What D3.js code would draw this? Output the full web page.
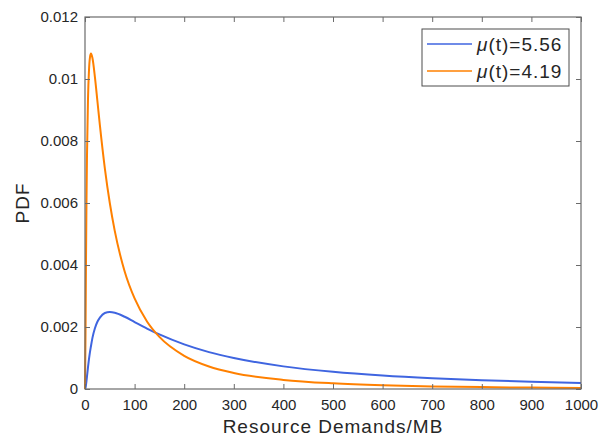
<!DOCTYPE html>
<html>
<head>
<meta charset="utf-8">
<script src="https://cdn.jsdelivr.net/npm/d3@7"></script>
<style>
  body { margin: 0; background: #fff; }
  text { font-family: "Liberation Sans", Arial, sans-serif; fill: #262626; }
</style>
</head>
<body>
<div id="chart"></div>
<script>
// Values
var xValues = [0, 1, 2, 3, 4, 6, 8, 10, 12, 15, 20, 25, 30, 40, 50, 60, 80, 100, 125, 150,
               200, 250, 300, 400, 500, 600, 700, 800, 900, 1000];
var blueValues = [0, 0.000033, 0.000133, 0.00026, 0.000409, 0.000697, 0.00096, 0.00119, 0.00138, 0.00165,
                  0.00196, 0.00217, 0.00230, 0.00245, 0.00248, 0.00246, 0.00233, 0.00216, 0.00195, 0.00176,
                  0.00144, 0.00119, 0.00100, 0.00073, 0.000553, 0.000432, 0.000346, 0.000282, 0.000233, 0.000196];
var orangeValues = [0, 0.0017, 0.00412, 0.00606, 0.0075, 0.00933, 0.01027, 0.0107, 0.01082, 0.01068,
                    0.01006, 0.00929, 0.00851, 0.00712, 0.006, 0.0051, 0.00379, 0.00292, 0.00218, 0.00168,
                    0.00107, 0.000727, 0.000519, 0.000294, 0.000183, 0.000121, 0.0000842, 0.0000608, 0.0000453, 0.0000345];
var seriesNames = ["5.56", "4.19"];
var xTicks = [0, 100, 200, 300, 400, 500, 600, 700, 800, 900, 1000];
var yTicks = [0, 0.002, 0.004, 0.006, 0.008, 0.01, 0.012];

var svgWidth = 599;
var svgHeight = 437;
var margin = { top: 17, right: 18, bottom: 48, left: 85 };
var width = svgWidth - margin.left - margin.right;
var height = svgHeight - margin.top - margin.bottom;

var svg = d3.select("#chart").append("svg")
    .attr("width", svgWidth)
    .attr("height", svgHeight);

var g = svg.append("g")
    .attr("transform", `translate(${margin.left}, ${margin.top})`);

var x = d3.scaleLinear().domain([0, 1000]).range([0, width]);
var y = d3.scaleLinear().domain([0, 0.012]).range([height, 0]);

var axisColor = "#6b6b6b";

// curves
var series = [
    { name: seriesNames[0], values: blueValues, color: "#3f65e0" },
    { name: seriesNames[1], values: orangeValues, color: "#ff8000" }
];

var line = d3.line()
    .x((d, i) => x(xValues[i]))
    .y(d => y(d))
    .curve(d3.curveMonotoneX);

series.forEach(function (s) {
    g.append("path")
        .datum(s.values)
        .attr("fill", "none")
        .attr("stroke", s.color)
        .attr("stroke-width", 2)
        .attr("d", line);
});

// axes (MATLAB style: ticks inside, box on)
function styleAxis(sel) {
    sel.select(".domain").remove();
    sel.selectAll(".tick line").attr("stroke", axisColor);
    sel.selectAll(".tick text").style("font-size", "15px").attr("fill", "#262626");
}

g.append("g")
    .attr("transform", `translate(0, ${height})`)
    .call(d3.axisBottom(x).tickValues(xTicks).tickSizeInner(-5).tickSizeOuter(0).tickPadding(10).tickFormat(d3.format("d")))
    .call(styleAxis);

g.append("g")
    .call(d3.axisTop(x).tickValues(xTicks).tickSizeInner(-5).tickSizeOuter(0).tickFormat(""))
    .call(styleAxis);

g.append("g")
    .call(d3.axisLeft(y).tickValues(yTicks).tickSizeInner(-5).tickSizeOuter(0).tickPadding(7)
        .tickFormat(d => d === 0 ? "0" : String(+d.toFixed(3))))
    .call(styleAxis);

g.append("g")
    .attr("transform", `translate(${width}, 0)`)
    .call(d3.axisRight(y).tickValues(yTicks).tickSizeInner(-5).tickSizeOuter(0).tickFormat(""))
    .call(styleAxis);

g.append("rect")
    .attr("width", width)
    .attr("height", height)
    .attr("fill", "none")
    .attr("stroke", axisColor)
    .attr("stroke-width", 1.2);

// axis labels
g.append("text")
    .attr("x", width / 2)
    .attr("y", height + 44)
    .attr("text-anchor", "middle")
    .style("font-size", "19px")
    .style("letter-spacing", "1px")
    .text("Resource Demands/MB");

g.append("text")
    .attr("transform", "rotate(-90)")
    .attr("x", -height / 2)
    .attr("y", -margin.left + 29)
    .attr("text-anchor", "middle")
    .style("font-size", "19px")
    .style("letter-spacing", "1px")
    .text("PDF");

// legend
var legend = g.append("g")
    .attr("transform", `translate(${422 - margin.left}, ${29 - margin.top})`);

legend.append("rect")
    .attr("width", 147)
    .attr("height", 57)
    .attr("fill", "#fff")
    .attr("stroke", "#4d4d4d")
    .attr("stroke-width", 1);

series.forEach(function (s, i) {
    var ly = 15 + i * 27;
    legend.append("line")
        .attr("x1", 5).attr("x2", 50)
        .attr("y1", ly).attr("y2", ly)
        .attr("stroke", s.color)
        .attr("stroke-width", 1.5);
    var t = legend.append("text")
        .attr("x", 55)
        .attr("y", ly + 7)
        .style("font-size", "19px")
        .style("letter-spacing", "1px");
    t.append("tspan").style("font-style", "italic").text("\u03bc");
    t.append("tspan").text("(t)=" + s.name);
});
</script>
</body>
</html>
